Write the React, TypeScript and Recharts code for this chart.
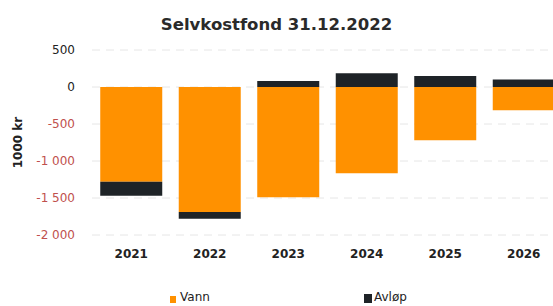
import React from 'react';
import { BarChart, Bar, XAxis, YAxis, CartesianGrid, Legend } from 'recharts';

const years = ['2021', '2022', '2023', '2024', '2025', '2026'];
const vann = [-1280, -1690, -1490, -1165, -720, -315];
const avlop = [-190, -90, 80, 185, 150, 100];
const yTicks = [500, 0, -500, -1000, -1500, -2000];

const data = years.map((y, i) => ({ year: y, vann: vann[i], avlop: avlop[i] }));

const FONT = '"DejaVu Sans", Verdana, sans-serif';
const ORANGE = '#ff9100';
const DARK = '#1e2327';

const fmt = (v: number) => {
  const s = Math.abs(v).toString().replace(/\B(?=(\d{3})+(?!\d))/g, ' ');
  return (v < 0 ? '-' : '') + s;
};

const YTick = (props: any) => {
  const { x, y, payload } = props;
  const v = payload.value as number;
  return (
    <text x={x} y={y} dy={4} textAnchor="end" fontFamily={FONT} fontSize={12}
      fill={v < 0 ? '#c0504d' : '#222'}>
      {fmt(v)}
    </text>
  );
};

const LegendContent = () => (
  <div style={{ position: 'relative', width: 553, height: 20, fontFamily: FONT, fontSize: 12, color: '#222' }}>
    <div style={{ position: 'absolute', left: 170, top: 7, width: 6, height: 7, background: ORANGE }} />
    <div style={{ position: 'absolute', left: 180, top: 1 }}>Vann</div>
    <div style={{ position: 'absolute', left: 364, top: 5, width: 8, height: 9, background: DARK }} />
    <div style={{ position: 'absolute', left: 374, top: 1 }}>Avløp</div>
  </div>
);

export default function App() {
  return (
    <div style={{ position: 'absolute', left: 0, top: 0, width: 553, height: 306, overflow: 'hidden', background: '#fff' }}>
      <div style={{ position: 'absolute', left: 0, top: 15, width: 553, textAlign: 'center', fontFamily: FONT, fontWeight: 'bold', fontSize: 16.5, color: '#2a2a2a' }}>
        Selvkostfond 31.12.2022
      </div>
      <BarChart width={570} height={306} data={data} stackOffset="sign"
        margin={{ top: 50, right: 7, bottom: 0, left: 0 }} barCategoryGap="10.5%">
        <CartesianGrid vertical={false} stroke="#e6e6e6" strokeDasharray="8 6" />
        <XAxis dataKey="year" axisLine={false} tickLine={false} tickSize={0} tickMargin={14}
          height={51} tick={{ fontFamily: FONT, fontSize: 12, fontWeight: 'bold', fill: '#222' }} />
        <YAxis width={92} domain={[-2000, 500]} ticks={yTicks} axisLine={false} tickLine={false}
          tickSize={0} tickMargin={17} interval={0} tick={<YTick />}
          label={{ value: '1000 kr', angle: -90, position: 'insideLeft', offset: 18,
            style: { textAnchor: 'middle', fontFamily: FONT, fontSize: 12, fontWeight: 'bold', fill: '#222' } }} />
        <Bar dataKey="vann" name="Vann" stackId="a" fill={ORANGE} isAnimationActive={false} />
        <Bar dataKey="avlop" name="Avløp" stackId="a" fill={DARK} isAnimationActive={false} />
        <Legend content={<LegendContent />} wrapperStyle={{ left: 0, top: 289, width: 553 }} />
      </BarChart>
    </div>
  );
}
